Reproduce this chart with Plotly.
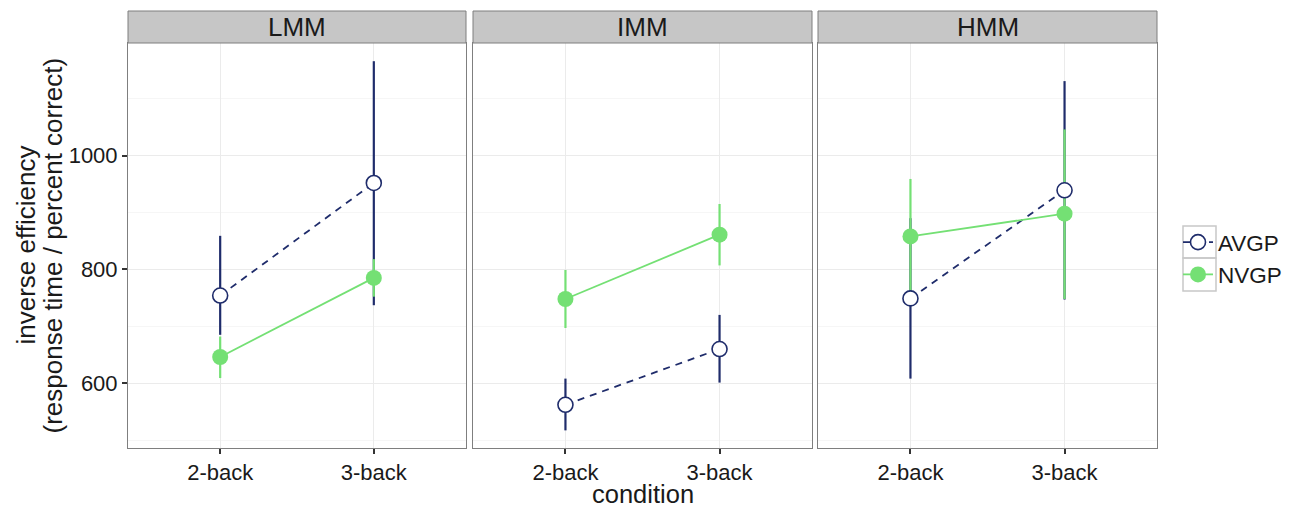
import plotly.graph_objects as go

panels = ["LMM", "IMM", "HMM"]
conditions = ["2-back", "3-back"]
series_names = ["AVGP", "NVGP"]

avgp_mean = [[754, 952], [562, 660], [749, 939]]
avgp_upper = [[859, 1166], [608, 720], [890, 1131]]
avgp_lower = [[685, 737], [517, 601], [608, 747]]

nvgp_mean = [[646, 785], [748, 861], [858, 898]]
nvgp_upper = [[682, 818], [799, 915], [959, 1046]]
nvgp_lower = [[609, 752], [697, 807], [757, 748]]

y_major = [600, 800, 1000]
y_minor = [500, 700, 900, 1100]

NAVY = "#1f2c6b"
GREEN = "#74e074"
FONT = "Liberation Sans, Arial, sans-serif"
TXT = "#1a1a1a"

W, H = 1300, 510
ML, MR, MT, MB = 128, 143, 43, 62
PW = W - ML - MR
PH = H - MT - MB

def px_x(p):
    return (p - ML) / PW

def px_y(p):
    return (H - MB - p) / PH

domains = [[0, px_x(466)], [px_x(473), px_x(812)], [px_x(818), 1.0]]

fig = go.Figure()

series = [
    ("AVGP", avgp_mean, avgp_upper, avgp_lower, NAVY),
    ("NVGP", nvgp_mean, nvgp_upper, nvgp_lower, GREEN),
]

for i, panel in enumerate(panels):
    xa = "x" if i == 0 else f"x{i+1}"
    ya = "y" if i == 0 else f"y{i+1}"
    # error bars first
    for name, mean, up, lo, col in series:
        m = mean[i]
        fig.add_trace(go.Scatter(
            x=conditions, y=m, mode="markers",
            marker=dict(size=1, opacity=0, color=col),
            error_y=dict(type="data", symmetric=False,
                         array=[u - v for u, v in zip(up[i], m)],
                         arrayminus=[v - l for v, l in zip(m, lo[i])],
                         width=0, thickness=2.2, color=col),
            xaxis=xa, yaxis=ya, showlegend=False, hoverinfo="skip"))
    # lines + points
    for name, mean, up, lo, col in series:
        if name == "AVGP":
            line = dict(color=col, width=1.8, dash="7px,6px")
            marker = dict(symbol="circle", size=15, color="white",
                          line=dict(color=col, width=1.6))
        else:
            line = dict(color=col, width=1.8)
            marker = dict(symbol="circle", size=16, color=col,
                          line=dict(color=col, width=0))
        fig.add_trace(go.Scatter(
            x=conditions, y=mean[i], mode="lines+markers", name=name,
            line=line, marker=marker, legendgroup=name,
            showlegend=(i == 0), xaxis=xa, yaxis=ya))

axis_common = dict(
    showline=True, mirror=True, linecolor="#7f7f7f", linewidth=1,
    zeroline=False, fixedrange=True,
)

layout = dict(
    width=W, height=H, autosize=False,
    margin=dict(l=ML, r=MR, t=MT, b=MB, pad=0),
    paper_bgcolor="white", plot_bgcolor="white",
    font=dict(family=FONT, color=TXT),
    showlegend=True,
    legend=dict(x=px_x(1178), y=px_y(258.5), xanchor="left", yanchor="middle",
                font=dict(size=22.5, color=TXT, family=FONT),
                bgcolor="rgba(0,0,0,0)", borderwidth=0, itemwidth=30,
                tracegroupgap=0, traceorder="normal"),
    shapes=[], annotations=[],
)

for i, panel in enumerate(panels):
    xk = "xaxis" if i == 0 else f"xaxis{i+1}"
    yk = "yaxis" if i == 0 else f"yaxis{i+1}"
    ya = "y" if i == 0 else f"y{i+1}"
    xa = "x" if i == 0 else f"x{i+1}"
    layout[xk] = dict(
        axis_common, domain=domains[i], anchor=ya, type="category",
        categoryorder="array", categoryarray=conditions, range=[-0.6, 1.6],
        showgrid=True, gridcolor="#ebebeb", gridwidth=1,
        ticks="outside", ticklen=5, tickwidth=1.6, tickcolor="#333333",
        tickfont=dict(size=22, color=TXT, family=FONT),
    )
    ydict = dict(
        axis_common, domain=[0, 1], anchor=xa, range=[486, 1198],
        tickmode="array", tickvals=y_major,
        showgrid=True, gridcolor="#ebebeb", gridwidth=1,
        minor=dict(tickmode="array", tickvals=y_minor, showgrid=True,
                   gridcolor="#f6f6f6", gridwidth=1, ticks=""),
        tickfont=dict(size=22, color=TXT, family=FONT),
    )
    if i == 0:
        ydict.update(ticks="outside", ticklen=5, tickwidth=1.6, tickcolor="#333333",
                     showticklabels=True)
    else:
        ydict.update(matches="y", ticks="", showticklabels=False)
    layout[yk] = ydict

    layout["shapes"].append(dict(
        type="rect", xref=f"{xa} domain", yref="paper",
        x0=0, x1=1, y0=1, y1=px_y(11),
        fillcolor="#c6c6c6", line=dict(color="#7f7f7f", width=1), layer="above"))
    layout["annotations"].append(dict(
        text=panel, xref=f"{xa} domain", yref="paper", x=0.5, y=px_y(27),
        xanchor="center", yanchor="middle", showarrow=False,
        font=dict(size=26, color=TXT, family=FONT)))

# legend key boxes
for top, bot in [(226, 258), (258, 291)]:
    layout["shapes"].append(dict(
        type="rect", xref="paper", yref="paper",
        x0=px_x(1183), x1=px_x(1216), y0=px_y(bot), y1=px_y(top),
        line=dict(color="#c8c8c8", width=1.5), fillcolor="rgba(0,0,0,0)", layer="above"))

# axis titles
layout["annotations"].append(dict(
    text="condition", xref="paper", yref="paper", x=px_x(642.5), y=px_y(494.5),
    xanchor="center", yanchor="middle", showarrow=False,
    font=dict(size=25.5, color=TXT, family=FONT)))
layout["annotations"].append(dict(
    text="inverse efficiency", xref="paper", yref="paper", x=px_x(25), y=px_y(245.5),
    xanchor="center", yanchor="middle", showarrow=False, textangle=-90,
    font=dict(size=26, color=TXT, family=FONT)))
layout["annotations"].append(dict(
    text="(response time / percent correct)", xref="paper", yref="paper",
    x=px_x(52), y=px_y(245.5),
    xanchor="center", yanchor="middle", showarrow=False, textangle=-90,
    font=dict(size=26, color=TXT, family=FONT)))

fig.update_layout(**layout)
fig.write_html("out.html")
